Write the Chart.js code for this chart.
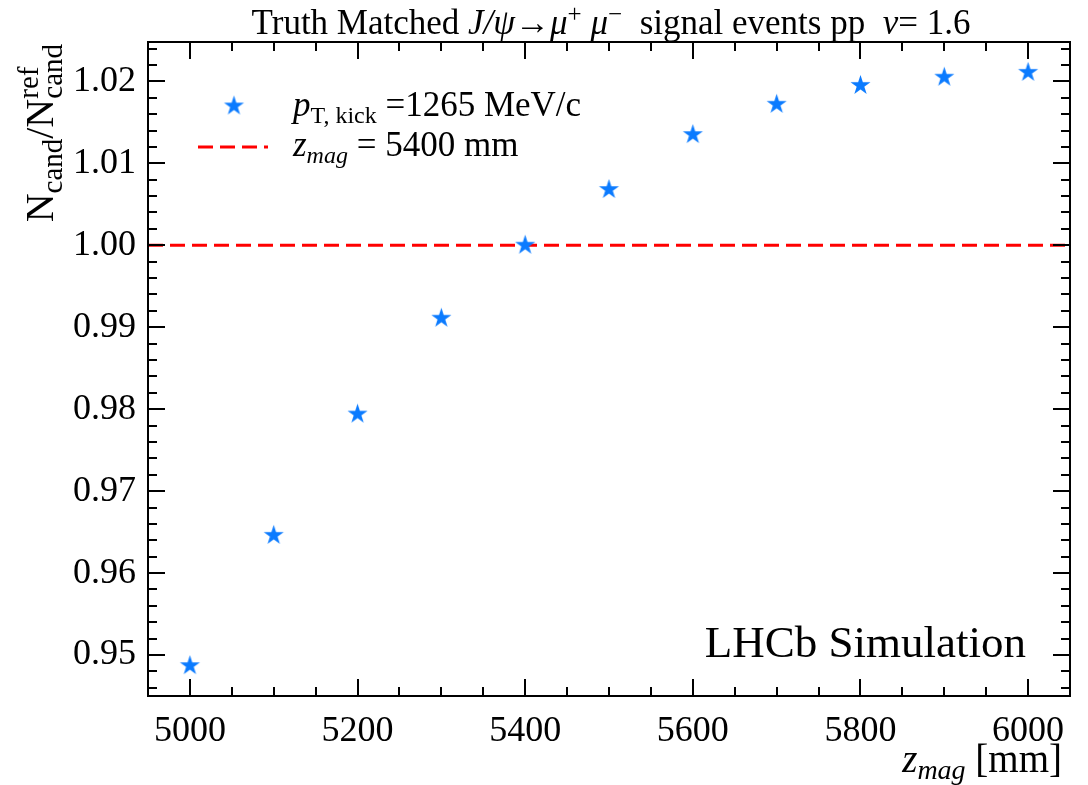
<!DOCTYPE html>
<html>
<head>
<meta charset="utf-8">
<script src="https://cdn.jsdelivr.net/npm/chart.js@4/dist/chart.umd.min.js"></script>
<style>
  html, body { margin: 0; padding: 0; background: #fff; }
  #wrap { width: 1088px; height: 785px; }
</style>
</head>
<body>
<div id="wrap"><canvas id="chart" width="1088" height="785"></canvas></div>
<script>
// z_mag scan points [mm] and N_cand / N_cand^ref
const zmag = [5000, 5100, 5200, 5300, 5400, 5500, 5600, 5700, 5800, 5900, 6000];
const ratio = [0.9487, 0.9646, 0.9794, 0.9911, 1.0000, 1.0068, 1.0135, 1.0172, 1.0195, 1.0205, 1.0211];
const refValue = 1.0;

const xTicks = [5000, 5200, 5400, 5600, 5800, 6000];
const yTicks = [0.95, 0.96, 0.97, 0.98, 0.99, 1.00, 1.01, 1.02];
const xRange = [4950, 6050];
const yRange = [0.9450, 1.0248];
const xMinorStep = 50;
const yMinorStep = 0.002;

const SERIF = '"Liberation Serif", "DejaVu Serif", serif';
const BLUE = '#0b7bff';
const RED = '#ff0000';

Chart.defaults.animation = false;

// filled five-point star, like the matplotlib '*' marker
function makeStar(r) {
  const size = Math.ceil(r * 2 + 2);
  const cv = document.createElement('canvas');
  cv.width = size; cv.height = size;
  const g = cv.getContext('2d');
  const c = size / 2, inner = r * 0.382;
  g.beginPath();
  for (let i = 0; i < 10; i++) {
    const rad = i % 2 ? inner : r;
    const a = -Math.PI / 2 + i * Math.PI / 5;
    const px = c + rad * Math.cos(a), py = c + rad * Math.sin(a);
    if (i === 0) g.moveTo(px, py); else g.lineTo(px, py);
  }
  g.closePath();
  g.fillStyle = BLUE;
  g.fill();
  return cv;
}
const star = makeStar(10.5);

// parts: [text, size, italic, dy, noAdvance]
function rich(ctx, parts, x, y, align) {
  const fontOf = (p) => `${p[2] ? 'italic ' : ''}${p[1]}px ${SERIF}`;
  let w = 0;
  parts.forEach((p) => { ctx.font = fontOf(p); if (!p[4]) w += ctx.measureText(p[0]).width; });
  let cx = align === 'right' ? x - w : align === 'center' ? x - w / 2 : x;
  ctx.textAlign = 'left';
  ctx.textBaseline = 'alphabetic';
  parts.forEach((p) => {
    ctx.font = fontOf(p);
    ctx.fillText(p[0], cx, y + (p[3] || 0));
    if (!p[4]) cx += ctx.measureText(p[0]).width;
  });
}

const decorations = {
  id: 'decorations',
  afterDraw(chart) {
    const { ctx, chartArea: a, scales } = chart;
    const xs = scales.x, ys = scales.y;
    ctx.save();
    ctx.strokeStyle = '#000';
    ctx.lineWidth = 2;

    // inward ticks on all four sides
    const tick = (x1, y1, x2, y2) => { ctx.beginPath(); ctx.moveTo(x1, y1); ctx.lineTo(x2, y2); ctx.stroke(); };
    for (let v = Math.ceil(xRange[0] / xMinorStep) * xMinorStep; v <= xRange[1]; v += xMinorStep) {
      const px = Math.round(xs.getPixelForValue(v));
      const len = xTicks.includes(v) ? 17 : 9;
      tick(px, a.bottom, px, a.bottom - len);
      tick(px, a.top, px, a.top + len);
    }
    for (let k = Math.ceil(yRange[0] / yMinorStep); k * yMinorStep <= yRange[1]; k++) {
      const v = k * yMinorStep;
      const py = Math.round(ys.getPixelForValue(v));
      const major = yTicks.some((t) => Math.abs(t - v) < 1e-6);
      const len = major ? 17 : 9;
      tick(a.left, py, a.left + len, py);
      tick(a.right, py, a.right - len, py);
    }
    ctx.strokeRect(a.left, a.top, a.right - a.left, a.bottom - a.top);

    ctx.fillStyle = '#000';
    // title
    rich(ctx, [
      ['Truth Matched ', 35], ['J/\u03C8', 35, true], ['\u2192', 35], ['\u03BC', 35, true],
      ['+', 25, false, -12], [' \u03BC', 35, true], ['\u2212', 25, false, -12],
      ['  signal events pp  ', 35], ['\u03BD', 35, true], ['= 1.6', 35]
    ], (a.left + a.right) / 2 + 2, 34, 'center');

    // legend
    ctx.drawImage(star, 234 - star.width / 2, 106 - star.height / 2);
    rich(ctx, [['p', 35, true], ['T, kick', 24, false, 7], [' =1265 MeV/c', 35]], 293, 116, 'left');
    ctx.save();
    ctx.strokeStyle = RED; ctx.lineWidth = 3; ctx.setLineDash([15, 7]);
    ctx.beginPath(); ctx.moveTo(198, 147); ctx.lineTo(268, 147); ctx.stroke();
    ctx.restore();
    rich(ctx, [['z', 35, true], ['mag', 24, true, 7], [' = 5400 mm', 35]], 293, 156, 'left');

    // LHCb label
    rich(ctx, [['LHCb Simulation', 45]], 1026, 657, 'right');

    // x title
    rich(ctx, [['z', 39, true], ['mag', 28, true, 7], [' [mm]', 39]], 1062, 772, 'right');

    // y title (rotated)
    ctx.save();
    ctx.translate(53, 44);
    ctx.rotate(-Math.PI / 2);
    rich(ctx, [['N', 40], ['cand', 29, false, 9], ['/N', 40], ['ref', 29, false, -15, true], ['cand', 29, false, 9]], 0, 0, 'right');
    ctx.restore();
    ctx.restore();
  }
};

new Chart(document.getElementById('chart'), {
  type: 'scatter',
  data: {
    datasets: [
      {
        label: 'z_mag = 5400 mm',
        type: 'line',
        data: xRange.map((x) => ({ x, y: refValue })),
        borderColor: RED,
        borderWidth: 3,
        borderDash: [15, 7],
        pointRadius: 0,
        order: 2
      },
      {
        label: 'pT,kick = 1265 MeV/c',
        data: zmag.map((z, i) => ({ x: z, y: ratio[i] })),
        pointStyle: star,
        backgroundColor: BLUE,
        borderColor: BLUE,
        order: 1
      }
    ]
  },
  options: {
    responsive: false,
    layout: { padding: { top: 42, right: 18, bottom: 0, left: 0 } },
    plugins: { legend: { display: false }, title: { display: false }, tooltip: { enabled: false } },
    scales: {
      x: {
        type: 'linear',
        min: xRange[0], max: xRange[1],
        afterBuildTicks: (s) => { s.ticks = xTicks.map((v) => ({ value: v })); },
        afterFit: (s) => { s.height = 89; },
        grid: { display: false, drawTicks: false },
        border: { display: false },
        ticks: { color: '#000', padding: 14, font: { family: SERIF, size: 36 }, maxRotation: 0, callback: (v) => String(v) }
      },
      y: {
        min: yRange[0], max: yRange[1],
        afterBuildTicks: (s) => { s.ticks = yTicks.map((v) => ({ value: v })); },
        afterFit: (s) => { s.width = 148; },
        grid: { display: false, drawTicks: false },
        border: { display: false },
        ticks: { color: '#000', padding: 12, font: { family: SERIF, size: 36 }, callback: (v) => v.toFixed(2) }
      }
    }
  },
  plugins: [decorations]
});
</script>
</body>
</html>
